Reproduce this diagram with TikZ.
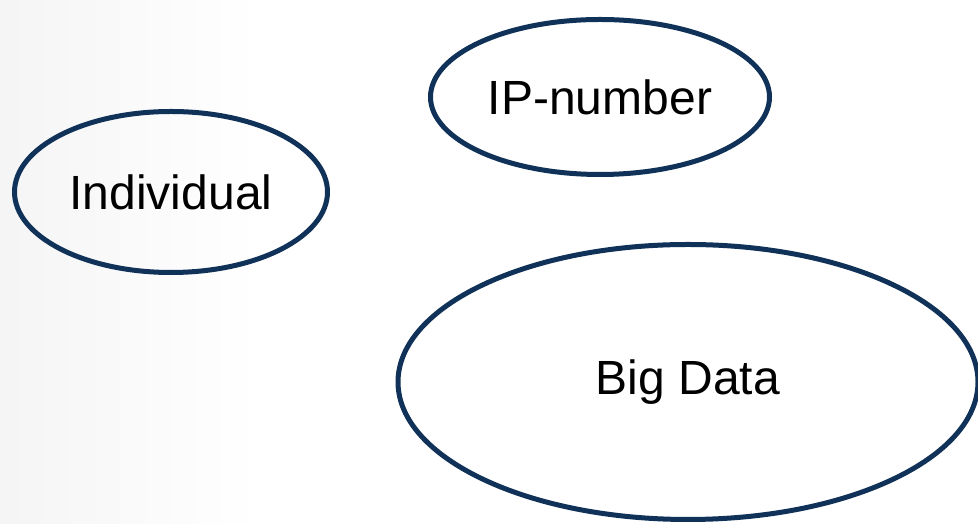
\documentclass[tikz,border=0pt]{standalone}
\usepackage{fontspec}
\setmainfont{Liberation Sans}
\usetikzlibrary{shapes, positioning}

\definecolor{navy}{RGB}{16,49,88}

\begin{document}
\begin{tikzpicture}[x=1pt, y=1pt,
    bubble/.style={ellipse, draw=navy, line width=5pt, inner sep=0pt,
                   font=\fontsize{48}{56}\selectfont}]
    \useasboundingbox (0,0) rectangle (978,524);
    \shade[left color=black!4, right color=white] (0,0) rectangle (260,524);

    \node[bubble, minimum width=339pt, minimum height=155pt] (IP) at (600,427) {IP-number};
    \node[bubble, minimum width=313pt, minimum height=161pt] (I) at (171,332) {Individual};
    \node[bubble, minimum width=580pt, minimum height=275pt] (BD) at (688,142) {Big Data};
\end{tikzpicture}
\end{document}
